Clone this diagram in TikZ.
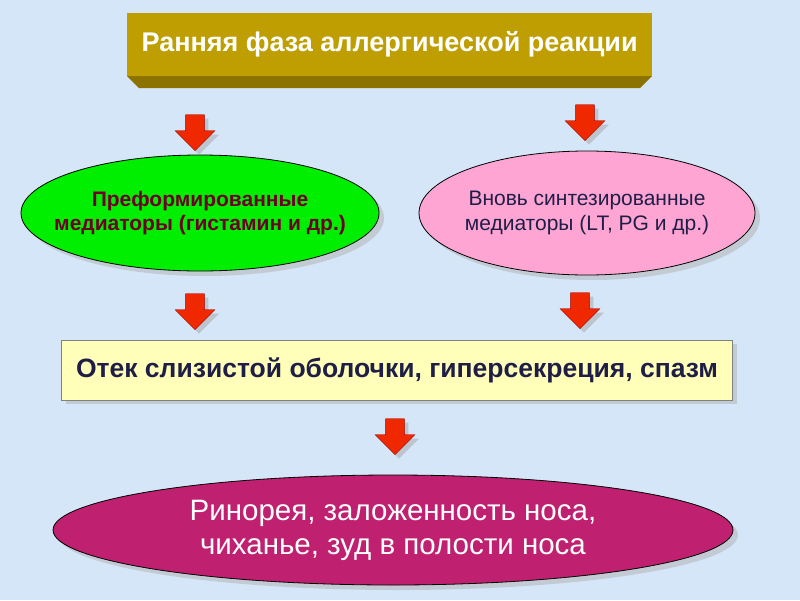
\documentclass[tikz,border=0pt]{standalone}
\usepackage{fontspec}
\setmainfont{Liberation Sans}
\usetikzlibrary{shapes.arrows,shapes.geometric,shadows}
\definecolor{bg}{RGB}{212,230,248}
\definecolor{gold}{RGB}{190,158,0}
\definecolor{goldd}{RGB}{140,115,0}
\definecolor{grn}{RGB}{0,238,0}
\definecolor{pnk}{RGB}{255,165,212}
\definecolor{ylw}{RGB}{255,255,185}
\definecolor{mag}{RGB}{192,32,112}
\definecolor{maroon}{RGB}{110,0,40}
\definecolor{navy}{RGB}{30,30,70}
\definecolor{arr}{RGB}{240,40,0}
\tikzset{
  downarr/.style={single arrow, rotate=-90, fill=arr, draw=red!60!black, minimum height=36pt, minimum width=40pt, single arrow head extend=7pt, inner sep=6pt, drop shadow={shadow xshift=4pt,shadow yshift=-4pt,fill=gray!70}},
  ell/.style={ellipse, draw=black, line width=0.8pt, inner sep=0pt, drop shadow={shadow xshift=5pt,shadow yshift=-5pt,fill=gray!60}},
  lbl/.style={align=center, inner sep=0pt},
}
\begin{document}
\begin{tikzpicture}[x=1pt,y=-1pt]
\fill[bg] (0,0) rectangle (800,600);
\useasboundingbox (0,0) rectangle (800,600);
% title box
\fill[goldd] (127,76) -- (652,76) -- (640,88) -- (139,88) -- cycle;
\node[fill=gold, minimum width=525pt, minimum height=63pt, inner sep=0pt, anchor=north west, text=white, font=\bfseries\fontsize{27}{30}\selectfont] (title) at (127,13) {Ранняя фаза аллергической реакции};
% ellipses
\node[ell, fill=grn, minimum width=358pt, minimum height=116pt] (pre) at (200,213) {};
\node[lbl, text=maroon, font=\bfseries\fontsize{21}{24}\selectfont] (pretxt) at (pre.center) {Преформированные\\медиаторы (гистамин и др.)};
\node[ell, fill=pnk, minimum width=336pt, minimum height=124pt] (new) at (587,213) {};
\node[lbl, text=navy, font=\fontsize{21}{25}\selectfont] (newtxt) at (new.center) {Вновь синтезированные\\медиаторы (LT, PG и др.)};
\node[draw=gray, fill=ylw, minimum width=671pt, minimum height=60pt, inner sep=0pt, text=navy, font=\bfseries\fontsize{26.5}{30}\selectfont, drop shadow={shadow xshift=4pt,shadow yshift=-4pt,fill=gray!60}] (ot) at (397,370) {Отек слизистой оболочки, гиперсекреция, спазм};
\node[ell, fill=mag, minimum width=680pt, minimum height=110pt] (rin) at (393,530) {};
\node[lbl, text=white, font=\fontsize{29.5}{34}\selectfont] (rintxt) at (rin.center) {Ринорея, заложенность носа,\\ чиханье, зуд в полости носа};
% arrows
\node[downarr] (a1) at (195,128) {};
\node[downarr] (a2) at (585,118) {};
\node[downarr] (a3) at (195,307) {};
\node[downarr] (a4) at (580,306) {};
\node[downarr] (a5) at (395,432) {};
\end{tikzpicture}
\end{document}
